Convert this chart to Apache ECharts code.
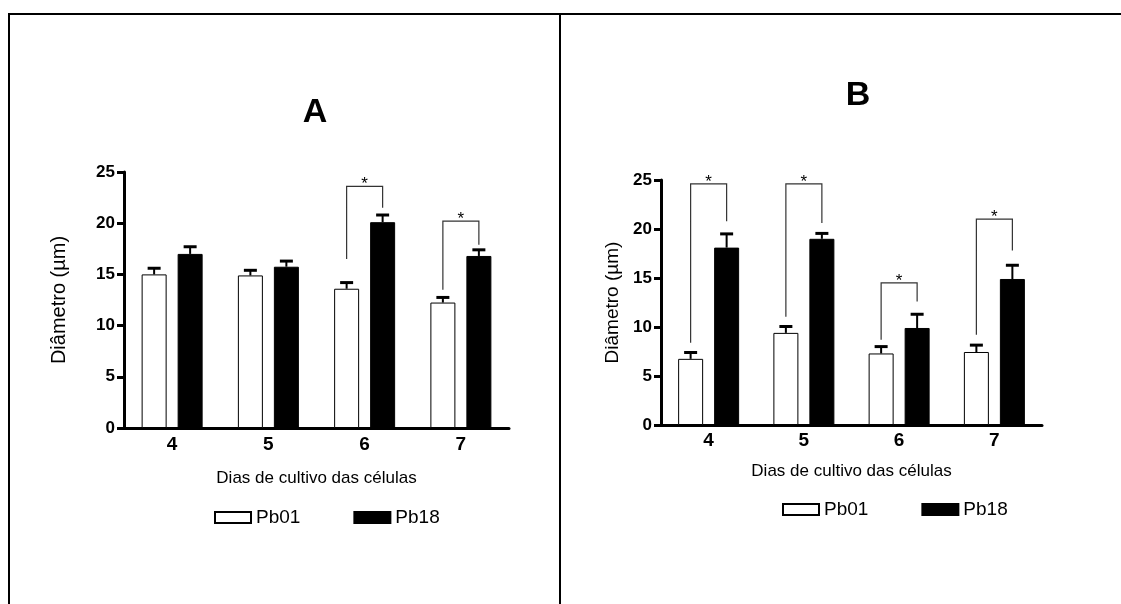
<!DOCTYPE html>
<html>
<head>
<meta charset="utf-8">
<title>Diâmetro das células</title>
<script src="https://cdn.jsdelivr.net/npm/echarts@6/dist/echarts.min.js"></script>
<style>
  html, body { margin: 0; padding: 0; background: #fff; }
  #chart { width: 1121px; height: 604px; }
</style>
</head>
<body>
<div id="chart"></div>
<script>
// Days of culture (x categories) and y tick range
const days = ['4', '5', '6', '7'];
const yTicks = [0, 5, 10, 15, 20, 25];

// Panel A: mean diameter (µm) and upper SEM
const meanA_Pb01 = [15.0, 14.9, 13.6, 12.25];
const meanA_Pb18 = [17.0, 15.75, 20.1, 16.8];
const errA_Pb01 = [0.6, 0.5, 0.6, 0.5];
const errA_Pb18 = [0.7, 0.55, 0.7, 0.6];

// Panel B: mean diameter (µm) and upper SEM
const meanB_Pb01 = [6.75, 9.4, 7.3, 7.45];
const meanB_Pb18 = [18.1, 19.0, 9.9, 14.9];
const errB_Pb01 = [0.65, 0.65, 0.7, 0.7];
const errB_Pb18 = [1.4, 0.55, 1.4, 1.4];

// Significance brackets: [day index, Pb01 leg end, bracket top, Pb18 leg end]
const sigA = [[2, 16.5, 23.6, 21.5], [3, 13.5, 20.2, 17.9]];
const sigB = [[0, 8.4, 24.6, 20.8], [1, 11.05, 24.6, 20.6], [2, 8.7, 14.5, 12.6], [3, 9.2, 21.0, 17.8]];

const FONT = "'Liberation Sans', Arial, sans-serif";
const BAR_W = 25;
const BAR_GAP = 0.44;
const HALF_SPAN = BAR_W * (1 + BAR_GAP) / 2; // distance from category center to each bar center
const CAP_W = 13;

const chart = echarts.init(document.getElementById('chart'));

function errorSeries(gridIdx, means, errs, side) {
  return {
    type: 'custom',
    xAxisIndex: gridIdx, yAxisIndex: gridIdx,
    z: 5,
    silent: true,
    data: means.map((m, i) => [i, m, errs[i]]),
    renderItem: function (params, api) {
      const base = api.coord([api.value(0), api.value(1)]);
      const top = api.coord([api.value(0), api.value(1) + api.value(2)]);
      const cx = base[0] + side * HALF_SPAN;
      return {
        type: 'group',
        children: [
          { type: 'line', shape: { x1: cx, y1: base[1], x2: cx, y2: top[1] },
            style: { stroke: '#000', lineWidth: 2 } },
          { type: 'line', shape: { x1: cx - CAP_W / 2, y1: top[1], x2: cx + CAP_W / 2, y2: top[1] },
            style: { stroke: '#000', lineWidth: 3 } }
        ]
      };
    }
  };
}

function bracketSeries(gridIdx, sig) {
  return {
    type: 'custom',
    xAxisIndex: gridIdx, yAxisIndex: gridIdx,
    z: 6,
    silent: true,
    clip: false,
    data: sig,
    renderItem: function (params, api) {
      const c = api.value(0);
      const pL = api.coord([c, api.value(1)]);
      const pT = api.coord([c, api.value(2)]);
      const pR = api.coord([c, api.value(3)]);
      const xl = pL[0] - HALF_SPAN, xr = pL[0] + HALF_SPAN;
      return {
        type: 'group',
        children: [
          { type: 'polyline',
            shape: { points: [[xl, pL[1]], [xl, pT[1]], [xr, pT[1]], [xr, pR[1]]] },
            style: { stroke: '#333', lineWidth: 1.2, fill: null } },
          { type: 'text',
            style: { x: pL[0], y: pT[1] - 2, text: '*', fill: '#000',
                     font: '17px ' + FONT, align: 'center', verticalAlign: 'middle' } }
        ]
      };
    }
  };
}

function barSeries(gridIdx, name, data, filled) {
  return {
    name: name,
    type: 'bar',
    xAxisIndex: gridIdx, yAxisIndex: gridIdx,
    barWidth: BAR_W,
    barGap: (BAR_GAP * 100) + '%',
    data: data,
    itemStyle: filled
      ? { color: '#000', borderColor: '#000', borderWidth: 1 }
      : { color: '#fff', borderColor: '#000', borderWidth: 1 },
    emphasis: { disabled: true }
  };
}

function xAxisDef(gridIdx, nameGap, labelMargin) {
  return {
    type: 'category', gridIndex: gridIdx, data: days,
    name: 'Dias de cultivo das células', nameLocation: 'middle', nameGap: nameGap,
    nameTextStyle: { fontFamily: FONT, fontSize: 17, color: '#000' },
    axisLine: { lineStyle: { color: '#000', width: 3 } },
    axisTick: { alignWithLabel: true, length: 8, lineStyle: { color: '#000', width: 3 } },
    axisLabel: { fontFamily: FONT, fontSize: 19, fontWeight: 'bold', color: '#000', margin: labelMargin },
    splitLine: { show: false }
  };
}

function yAxisDef(gridIdx, nameGap, nameSize) {
  return {
    type: 'value', gridIndex: gridIdx,
    min: yTicks[0], max: yTicks[yTicks.length - 1], interval: yTicks[1] - yTicks[0],
    name: 'Diâmetro (µm)', nameLocation: 'middle', nameGap: nameGap, nameRotate: 90,
    nameTextStyle: { fontFamily: FONT, fontSize: nameSize, color: '#000' },
    axisLine: { show: true, lineStyle: { color: '#000', width: 3 } },
    axisTick: { show: true, length: 7, lineStyle: { color: '#000', width: 3 } },
    axisLabel: { fontFamily: FONT, fontSize: 17, fontWeight: 'bold', color: '#000', margin: 9 },
    splitLine: { show: false }
  };
}

function legendDef(left, top) {
  return {
    left: left, top: top,
    padding: 0,
    data: ['Pb01', 'Pb18'],
    icon: 'rect',
    itemWidth: 36, itemHeight: 11, itemGap: 53,
    selectedMode: false,
    textStyle: { fontFamily: FONT, fontSize: 19, color: '#000' }
  };
}

const option = {
  animation: false,
  backgroundColor: '#fff',
  title: [
    { text: 'A', left: 310, top: 91, textAlign: 'center',
      textStyle: { fontFamily: FONT, fontSize: 34, fontWeight: 'bold', color: '#000' } },
    { text: 'B', left: 853, top: 74, textAlign: 'center',
      textStyle: { fontFamily: FONT, fontSize: 34, fontWeight: 'bold', color: '#000' } }
  ],
  grid: [
    { left: 124, top: 172, width: 385, height: 256 },
    { left: 661, top: 180, width: 381, height: 245 }
  ],
  xAxis: [xAxisDef(0, 42, 7), xAxisDef(1, 38, 6)],
  yAxis: [yAxisDef(0, 55, 20), yAxisDef(1, 39, 19)],
  legend: [legendDef(214, 508), legendDef(782, 500)],
  series: [
    barSeries(0, 'Pb01', meanA_Pb01, false),
    barSeries(0, 'Pb18', meanA_Pb18, true),
    errorSeries(0, meanA_Pb01, errA_Pb01, -1),
    errorSeries(0, meanA_Pb18, errA_Pb18, 1),
    bracketSeries(0, sigA),
    barSeries(1, 'Pb01', meanB_Pb01, false),
    barSeries(1, 'Pb18', meanB_Pb18, true),
    errorSeries(1, meanB_Pb01, errB_Pb01, -1),
    errorSeries(1, meanB_Pb18, errB_Pb18, 1),
    bracketSeries(1, sigB)
  ],
  graphic: [
    // frame around the two panels
    { type: 'line', shape: { x1: 8, y1: 14, x2: 1121, y2: 14 }, style: { stroke: '#000', lineWidth: 2 } },
    { type: 'line', shape: { x1: 9, y1: 14, x2: 9, y2: 604 }, style: { stroke: '#000', lineWidth: 2 } },
    { type: 'line', shape: { x1: 560, y1: 14, x2: 560, y2: 604 }, style: { stroke: '#000', lineWidth: 2 } }
  ]
};

chart.setOption(option);
</script>
</body>
</html>
